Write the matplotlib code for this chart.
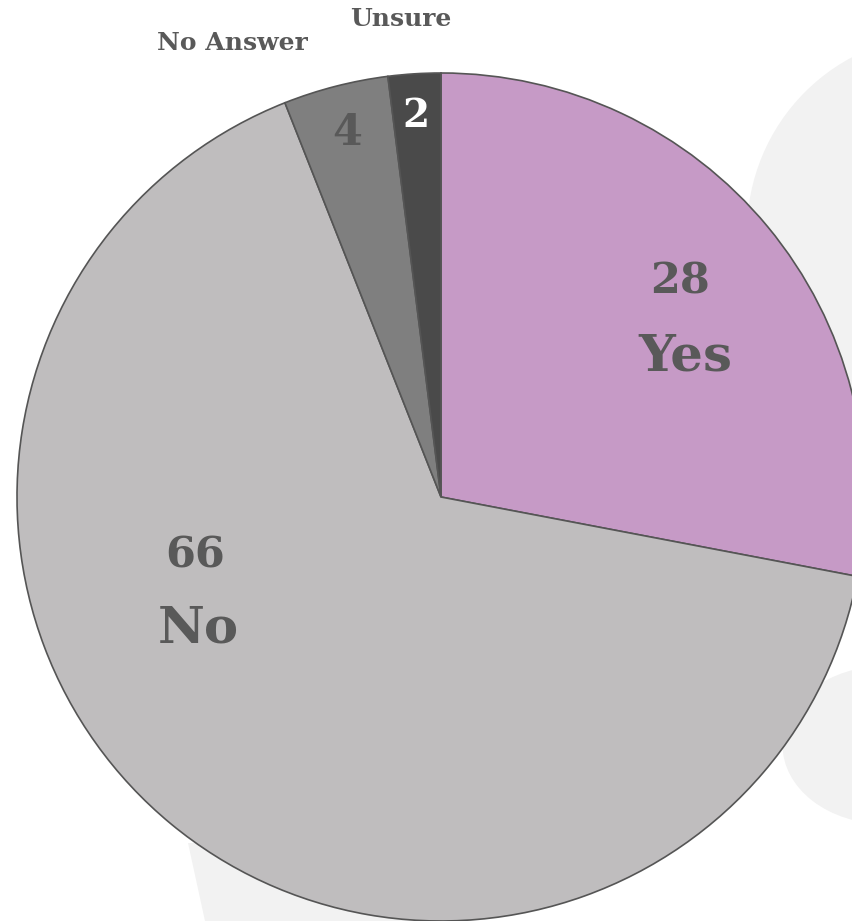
import matplotlib.pyplot as plt
from matplotlib.patches import Circle, Ellipse, Polygon

# survey answers
labels = ["Yes", "No", "No Answer", "Unsure"]
values = [28, 66, 4, 2]
colors = ["#c69ac6", "#bfbdbe", "#7f7f7f", "#4a4a4a"]

W, H = 853, 921
fig = plt.figure(figsize=(W / 100, H / 100), dpi=100)
ax = fig.add_axes([0, 0, 1, 1])

# faint background shapes
bg = "#f2f2f2"
ax.add_patch(Circle((945, H - 232), 198, color=bg, lw=0, zorder=0))
ax.add_patch(Ellipse((885, H - 745), 205, 158, color=bg, lw=0, zorder=0))
ax.add_patch(Polygon([(188, H - 843), (205, 0), (470, 0), (470, H - 843)],
                     closed=True, color=bg, lw=0, zorder=0))

cx, cy, r = 441, H - 497, 424
wedges, _ = ax.pie(values, colors=colors, startangle=90, counterclock=False,
                   center=(cx, cy), radius=r,
                   wedgeprops=dict(edgecolor="#555555", linewidth=1.2))
for w in wedges:
    w.set_zorder(2)

txt = "#595959"
font = dict(family="DejaVu Serif", fontweight="heavy", ha="center", va="center", zorder=3)

# value + name inside the two big slices
ax.text(680, H - 282, str(values[0]), fontsize=31, color=txt, **font)
ax.text(685, H - 357, labels[0], fontsize=37, color=txt, **font)
ax.text(195, H - 556, str(values[1]), fontsize=31, color=txt, **font)
ax.text(198, H - 629, labels[1], fontsize=37, color=txt, **font)

# small slices: value inside, name above the pie
ax.text(347, H - 133, str(values[2]), fontsize=31, color=txt, **font)
ax.text(416, H - 116, str(values[3]), fontsize=28, color="white", **font)
ax.text(232, H - 43, labels[2], fontsize=18, color=txt, **font)
ax.text(401, H - 19, labels[3], fontsize=18, color=txt, **font)

ax.set_xlim(0, W)
ax.set_ylim(0, H)
ax.set_aspect("auto")
ax.axis("off")

fig.savefig("out.png", dpi=100)
